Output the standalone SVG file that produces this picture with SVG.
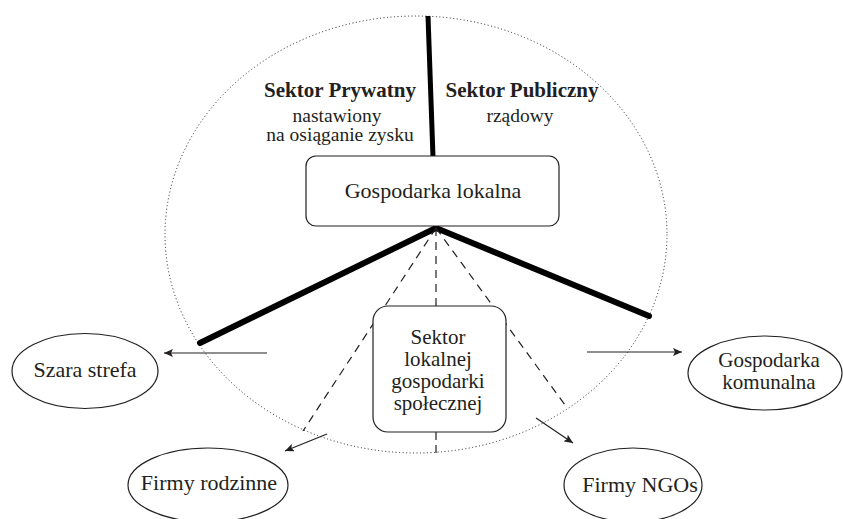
<svg xmlns="http://www.w3.org/2000/svg" width="843" height="519" viewBox="0 0 843 519">
<style>
text{fill:#231f20;text-anchor:middle}
.t{font-size:22px}
.m{font-size:21px}
.b{font-size:21px;font-weight:bold}
.s{font-size:19.5px}
.node{fill:#fff;stroke:#231f20;stroke-width:1.2}
.thick{stroke:#000;stroke-width:6;stroke-linecap:round;fill:none}
.dash{stroke:#231f20;stroke-width:1.2;stroke-dasharray:8 6;fill:none}
.arr{stroke:#231f20;stroke-width:1.2;fill:none;marker-end:url(#ah)}
</style>
<defs>
<marker id="ah" markerWidth="10" markerHeight="8" refX="9" refY="4" orient="auto" markerUnits="userSpaceOnUse">
<path d="M0,0 L9,4 L0,8 L2,4 Z" fill="#231f20"/>
</marker>
</defs>
<rect width="843" height="519" fill="#fff"/>
<g id="boundary">
<ellipse cx="416" cy="234.5" rx="251" ry="218.5" fill="none" stroke="#231f20" stroke-width="1" stroke-dasharray="1 2.5"/>
</g>
<g id="connectors">
<line class="thick" x1="428" y1="16" x2="433" y2="157" style="stroke-width:5;stroke-linecap:butt"/>
<line class="thick" x1="436" y1="228" x2="200" y2="343"/>
<line class="thick" x1="436" y1="228" x2="649" y2="316"/>
<line class="dash" x1="436" y1="228" x2="303" y2="431"/>
<line class="dash" x1="436" y1="228" x2="565" y2="405"/>
<line class="dash" x1="436" y1="228" x2="436" y2="306"/>
<line class="dash" x1="436" y1="432" x2="436" y2="453" style="stroke-dasharray:8 5"/>
<line class="arr" x1="267" y1="353" x2="164" y2="353"/>
<line class="arr" x1="587" y1="352" x2="682" y2="352"/>
<line class="arr" x1="327" y1="434" x2="285" y2="451"/>
<line class="arr" x1="536" y1="418" x2="573" y2="443"/>
</g>
<g font-family="Liberation Serif, Tinos, Times New Roman, Noto Serif, DejaVu Serif, serif">
<g id="labels">
<text class="b" x="340" y="97">Sektor Prywatny</text>
<text class="s" x="337" y="122">nastawiony</text>
<text class="s" x="340" y="141">na osiąganie zysku</text>
<text class="b" x="522" y="97">Sektor Publiczny</text>
<text class="s" x="520" y="122">rządowy</text>
</g>
<g id="gospodarka-lokalna">
<rect class="node" x="306" y="156" width="253" height="70" rx="10"/>
<text class="t" x="433" y="198">Gospodarka lokalna</text>
</g>
<g id="sektor-lokalnej">
<rect class="node" x="373" y="306" width="133" height="126" rx="15"/>
<text class="m" x="438" y="344">Sektor</text>
<text class="m" x="438" y="366">lokalnej</text>
<text class="m" x="438" y="388">gospodarki</text>
<text class="m" x="438" y="410">społecznej</text>
</g>
<g id="szara-strefa">
<ellipse class="node" cx="85" cy="371" rx="73" ry="37.5"/>
<text class="t" x="85" y="377">Szara strefa</text>
</g>
<g id="gospodarka-komunalna">
<ellipse class="node" cx="765" cy="373" rx="77" ry="37"/>
<text class="m" x="769" y="367">Gospodarka</text>
<text class="m" x="769" y="389">komunalna</text>
</g>
<g id="firmy-rodzinne">
<ellipse class="node" cx="208" cy="485" rx="80" ry="37"/>
<text class="t" x="209" y="490">Firmy rodzinne</text>
</g>
<g id="firmy-ngos">
<ellipse class="node" cx="633" cy="485" rx="69" ry="37"/>
<text class="t" x="640" y="492">Firmy NGOs</text>
</g>
</g>
</svg>
